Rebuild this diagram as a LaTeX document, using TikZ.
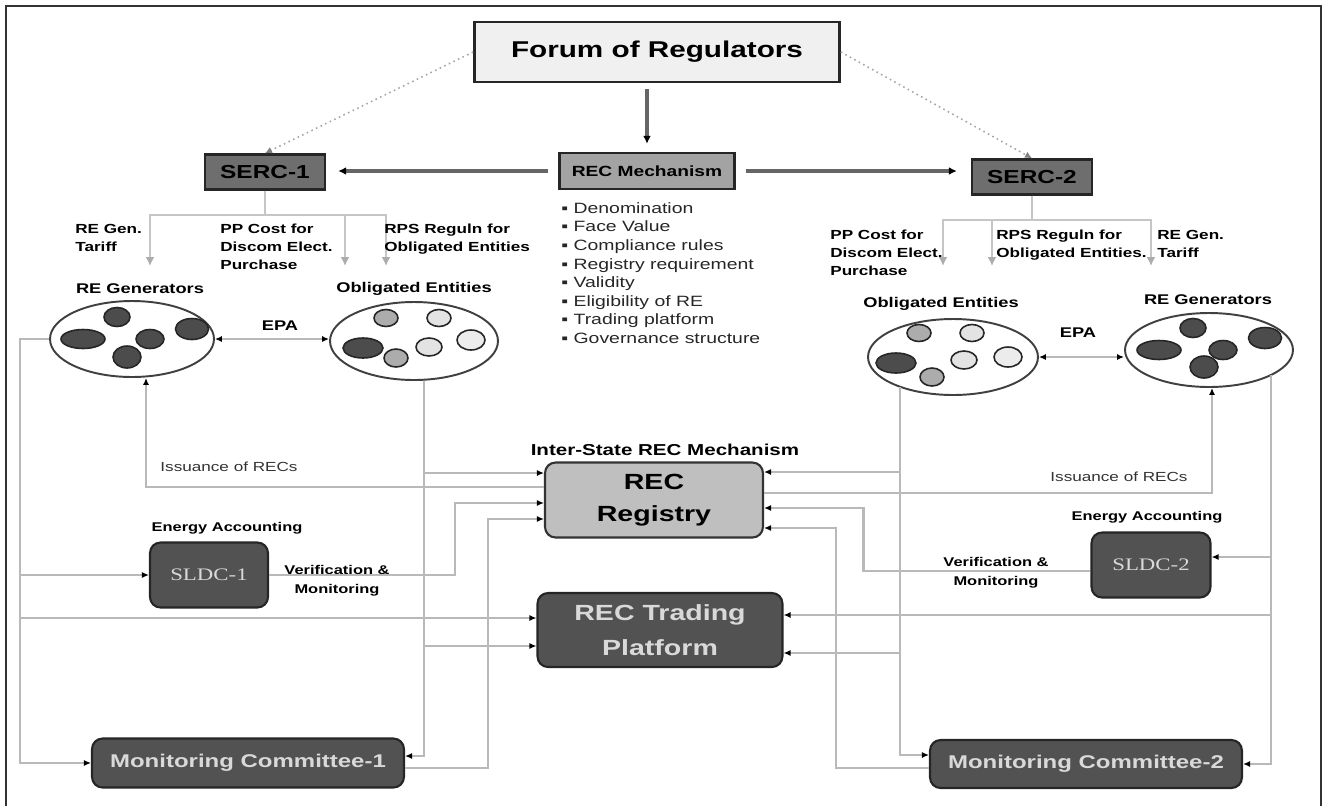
\documentclass[tikz,border=0pt]{standalone}
\usepackage{fontspec}
\setmainfont[FakeStretch=1.3]{Liberation Sans}
\newfontfamily\sldcfont[FakeStretch=1.3]{Liberation Serif}
\usetikzlibrary{arrows.meta, shapes.geometric}

\tikzset{
  conn/.style={draw=gray!55, line width=1.5pt},
  arr/.style={conn, -{Latex[length=4pt,width=3.5pt,color=black]}},
  twoarr/.style={conn, {Latex[length=4pt,width=3.5pt,color=black]}-{Latex[length=4pt,width=3.5pt,color=black]}},
  branch/.style={draw=gray!45, line width=1.6pt, -{Latex[length=5pt,width=5pt,color=gray!65]}},
  darkarr/.style={draw=black!60, line width=2.1pt, -{Latex[length=4.5pt,width=4.5pt,color=black]}},
  dotarr/.style={draw=gray!70, dotted, line width=0.9pt, -{Latex[length=4pt,width=4pt,color=gray]}},
  forumbox/.style={draw=black!85, line width=1.6pt, fill=black!6, minimum width=7.3cm, minimum height=1.2cm,
    font=\bfseries\fontsize{13}{15}\selectfont},
  mechbox/.style={draw=black!85, line width=1.4pt, fill=gray!72, minimum width=3.5cm, minimum height=0.72cm,
    font=\bfseries\fontsize{8.4}{10}\selectfont},
  sercbox/.style={draw=black!85, line width=1.4pt, fill=black!57, minimum width=2.4cm, minimum height=0.7cm,
    font=\bfseries\fontsize{10.7}{12}\selectfont},
  regbox/.style={draw=black!80, line width=1.2pt, rounded corners=6pt, fill=gray!50, align=center,
    minimum width=4.36cm, minimum height=1.5cm, font=\bfseries\fontsize{12.5}{18}\selectfont},
  darkbox/.style={draw=black!85, line width=1.2pt, rounded corners=6pt, fill=black!68, text=black!15, align=center},
  group/.style={ellipse, draw=black!75, line width=1.1pt, fill=white, inner sep=0pt},
  brlbl/.style={anchor=north west, inner sep=0pt, align=left, font=\bfseries\fontsize{7.5}{10.2}\selectfont},
  grlbl/.style={inner sep=0pt, font=\bfseries\fontsize{8}{10}\selectfont},
  smlbl/.style={inner sep=0pt, align=center, font=\bfseries\fontsize{7.2}{11}\selectfont},
  isslbl/.style={inner sep=0pt, text=black!80, font=\fontsize{7.5}{9}\selectfont}
}

\begin{document}
\begin{tikzpicture}[x=0.02cm, y=-0.02cm]
\useasboundingbox (0,0) rectangle (1330,806);
\draw[black!80, line width=0.8pt] (6,806) -- (6,6) -- (1321,6) -- (1321,806);

% regulators and mechanism
\node[forumbox] (forum) at (657,52) {Forum of Regulators};
\node[mechbox] (mech) at (647,171) {REC Mechanism};
\node[sercbox] (serc1) at (265,172) {SERC-1};
\node[sercbox] (serc2) at (1032,177) {SERC-2};

\draw[darkarr, shorten <=0.12cm, shorten >=0.16cm] (forum.south -| mech.north) -- (mech.north);
\draw[darkarr, shorten <=0.2cm, shorten >=0.24cm] (mech.west) -- (mech.west -| serc1.east);
\draw[darkarr, shorten <=0.2cm, shorten >=0.28cm] (mech.east) -- (mech.east -| serc2.west);
\draw[dotarr] (forum.west) -- (serc1.north);
\draw[dotarr] (forum.east) -- (serc2.north);

\node[anchor=north west, inner sep=0pt, align=left, text=black!85, font=\fontsize{8.5}{10.6}\selectfont] (list) at (561,202)
  {▪ Denomination\\▪ Face Value\\▪ Compliance rules\\▪ Registry requirement\\▪ Validity\\▪ Eligibility of RE\\▪ Trading platform\\▪ Governance structure};

% state 1
\foreach \bx in {150,345,386}
  \draw[branch] (serc1.south) |- (\bx,215) -- (\bx,266);
\node[brlbl] (tariff1) at (75,224) {RE Gen.\\Tariff};
\node[brlbl] (ppcost1) at (220,224) {PP Cost for\\Discom Elect.\\Purchase};
\node[brlbl] (rps1) at (384,224) {RPS Reguln for\\Obligated Entities};

\node[grlbl] (reg1lbl) at (140,289) {RE Generators};
\node[grlbl] (obl1lbl) at (414,289) {Obligated Entities};
\node[group, minimum width=3.28cm, minimum height=1.52cm] (reg1) at (132,339) {};
\node[group, minimum width=3.36cm, minimum height=1.56cm] (obl1) at (414,341) {};
\foreach \bx/\by/\rx/\ry/\bc in {117/317/0.26/0.19/black!70, 83/339/0.44/0.19/black!70, 150/339/0.28/0.19/black!70,
    192/329/0.33/0.21/black!70, 127/357/0.28/0.22/black!70,
    386/318/0.24/0.17/gray!65, 439/318/0.24/0.17/gray!22, 471/340/0.28/0.2/gray!15,
    363/348/0.4/0.2/black!70, 396/358/0.24/0.18/gray!65, 429/347/0.26/0.18/gray!22}
  \draw[black!85, line width=0.9pt, fill=\bc] (\bx,\by) ellipse [x radius=\rx cm, y radius=\ry cm];
\draw[twoarr] (reg1.east) -- (reg1.east -| obl1.west);
\node[grlbl] (epa1) at (280,326) {EPA};

% state 2
\foreach \bx in {943,992,1151}
  \draw[branch] (serc2.south) |- (\bx,220) -- (\bx,266);
\node[brlbl] (ppcost2) at (830,230) {PP Cost for\\Discom Elect.\\Purchase};
\node[brlbl] (rps2) at (996,230) {RPS Reguln for\\Obligated Entities.};
\node[brlbl] (tariff2) at (1157,230) {RE Gen.\\Tariff};

\node[grlbl] (obl2lbl) at (941,304) {Obligated Entities};
\node[grlbl] (reg2lbl) at (1208,300) {RE Generators};
\node[group, minimum width=3.4cm, minimum height=1.52cm] (obl2) at (953,357) {};
\node[group, minimum width=3.36cm, minimum height=1.48cm] (reg2) at (1209,350) {};
\foreach \bx/\by/\rx/\ry/\bc in {1193/328/0.26/0.19/black!70, 1159/350/0.44/0.19/black!70, 1223/350/0.28/0.19/black!70,
    1265/338/0.33/0.21/black!70, 1204/367/0.28/0.22/black!70,
    919/333/0.24/0.17/gray!65, 972/333/0.24/0.17/gray!22, 1008/357/0.28/0.2/gray!15,
    896/363/0.4/0.2/black!70, 932/377/0.24/0.18/gray!65, 964/360/0.26/0.18/gray!22}
  \draw[black!85, line width=0.9pt, fill=\bc] (\bx,\by) ellipse [x radius=\rx cm, y radius=\ry cm];
\draw[twoarr] (obl2.east) -- (obl2.east -| reg2.west);
\node[grlbl] (epa2) at (1078,333) {EPA};

% inter-state part
\node[grlbl, font=\bfseries\fontsize{9}{11}\selectfont] (inter) at (665,450) {Inter-State REC Mechanism};
\node[regbox] (reg) at (654,500) {REC\\Registry};
\node[darkbox, minimum width=4.9cm, minimum height=1.48cm, font=\bfseries\fontsize{12.5}{20}\selectfont] (trade) at (660,630) {REC Trading\\Platform};
\node[darkbox, minimum width=2.36cm, minimum height=1.3cm, font=\sldcfont\fontsize{10}{12}\selectfont] (sldc1) at (209,575) {SLDC-1};
\node[darkbox, minimum width=2.38cm, minimum height=1.3cm, font=\sldcfont\fontsize{10}{12}\selectfont] (sldc2) at (1151,565) {SLDC-2};
\node[darkbox, minimum width=6.24cm, minimum height=0.98cm, font=\bfseries\fontsize{10.5}{12}\selectfont] (mc1) at (248,763) {Monitoring Committee-1};
\node[darkbox, minimum width=6.24cm, minimum height=0.96cm, font=\bfseries\fontsize{10.5}{12}\selectfont] (mc2) at (1086,764) {Monitoring Committee-2};
\node[smlbl] (ea1) at (227,528) {Energy Accounting};
\node[smlbl] (ea2) at (1147,517) {Energy Accounting};
\node[smlbl] (vm1) at (337,581) {Verification \&\\Monitoring};
\node[smlbl] (vm2) at (996,573) {Verification \&\\Monitoring};
\node[isslbl] (iss1) at (229,467) {Issuance of RECs};
\node[isslbl] (iss2) at (1119,477) {Issuance of RECs};

% left side links
\coordinate (lbus) at (20,339);
\draw[arr] (reg1.west) -- (lbus) |- (mc1.west);
\draw[arr] (lbus) |- (sldc1.west);
\draw[arr] (lbus) |- ([yshift=0.24cm]trade.west);
\draw[arr] ([yshift=0.26cm]reg.west) -| ([xshift=0.28cm]reg1.south);
\coordinate (obus1) at ([xshift=0.2cm]obl1.south);
\draw[arr] (obus1) |- ([yshift=0.14cm]mc1.east);
\draw[arr] (obus1) |- ([yshift=0.54cm]reg.west);
\draw[arr] (obus1) |- ([yshift=-0.32cm]trade.west);
\draw[arr] (sldc1.east) -- ++(3.72cm,0) |- ([yshift=-0.06cm]reg.west);
\draw[arr] ([yshift=-0.1cm]mc1.east) -- ++(1.66cm,0) |- ([yshift=-0.38cm]reg.west);

% right side links
\coordinate (obus2) at (900,387);
\draw[arr] (obus2) |- ([yshift=0.18cm]mc2.west);
\draw[arr] (obus2) |- ([yshift=0.56cm]reg.east);
\draw[arr] (obus2) |- ([yshift=-0.46cm]trade.east);
\draw[arr] ([yshift=0.14cm]reg.east) -| ([xshift=0.06cm]reg2.south);
\draw[arr] ([yshift=-0.12cm]sldc2.west) -- ++(-4.54cm,0) |- ([yshift=-0.16cm]reg.east);
\draw[arr] ([yshift=-0.08cm]mc2.west) -- ++(-1.86cm,0) |- ([yshift=-0.56cm]reg.east);
\coordinate (rbus) at (1271,375);
\draw[arr] (rbus) |- (mc2.east);
\draw[arr] (rbus) |- ([yshift=0.16cm]sldc2.east);
\draw[arr] (rbus) |- ([yshift=0.3cm]trade.east);
\end{tikzpicture}
\end{document}
